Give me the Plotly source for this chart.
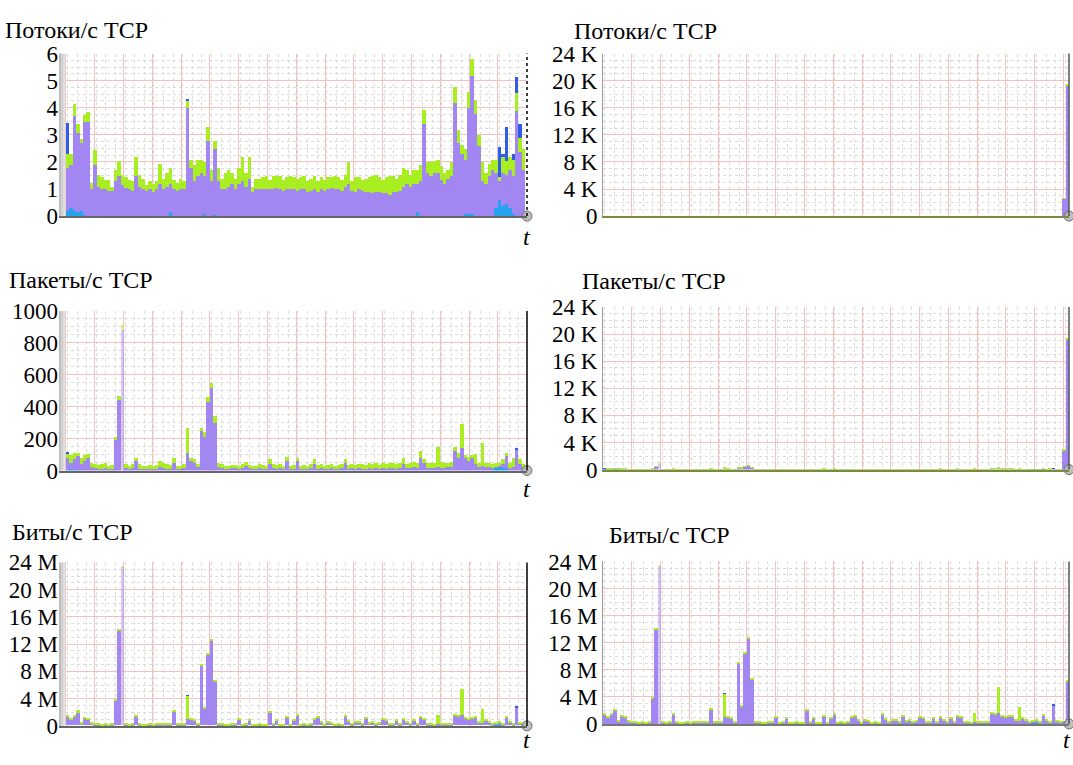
import plotly.graph_objects as go

# ---------------------------------------------------------------------------
# TCP traffic, one value per time step (stacked layers, bottom to top:
# light blue, purple, green, dark blue)
# ---------------------------------------------------------------------------

# Flows per second
FLOWS_LIGHTBLUE = [
    0.2, 0.3, 0.2, 0.15, 0.2, 0.05, 0, 0, 0, 0,
    0, 0, 0, 0, 0, 0, 0, 0, 0, 0,
    0, 0, 0, 0, 0, 0, 0, 0, 0, 0,
    0.15, 0, 0, 0, 0, 0, 0, 0, 0, 0,
    0.08, 0, 0, 0.05, 0, 0, 0, 0, 0, 0,
    0, 0, 0, 0, 0, 0, 0, 0, 0, 0,
    0, 0, 0, 0, 0, 0, 0, 0, 0, 0,
    0, 0, 0, 0, 0, 0, 0, 0, 0, 0,
    0, 0, 0, 0, 0, 0, 0, 0, 0, 0,
    0, 0, 0, 0, 0, 0, 0, 0, 0, 0,
    0, 0, 0.15, 0, 0, 0, 0, 0, 0, 0,
    0, 0, 0, 0, 0, 0, 0.1, 0.1, 0.08, 0,
    0, 0, 0, 0, 0, 0.3, 0.6, 0.4, 0.45, 0.3,
    0.1, 0, 0, 0,
]
FLOWS_PURPLE = [
    1.6, 1.6, 3.5, 2.95, 2.5, 3.45, 3.5, 1.0, 1.9, 1.1,
    1.0, 1.0, 0.95, 0.95, 1.3, 1.5, 1.15, 1.05, 1.0, 0.95,
    1.5, 1.1, 1.0, 0.95, 1.0, 0.9, 1.0, 1.2, 1.0, 1.1,
    1.05, 1.0, 0.95, 1.0, 1.0, 4.0, 1.8, 1.3, 1.5, 1.6,
    1.42, 2.8, 1.3, 2.45, 1.3, 1.0, 1.0, 1.1, 1.2, 1.0,
    1.2, 1.3, 1.1, 1.4, 0.9, 1.0, 1.0, 1.0, 1.0, 1.0,
    1.0, 1.05, 1.0, 0.95, 1.0, 1.0, 1.0, 0.95, 1.0, 1.0,
    0.9, 0.95, 1.0, 0.9, 1.0, 0.95, 1.0, 1.05, 1.0, 1.0,
    0.95, 1.1, 1.2, 0.95, 0.9, 1.0, 0.95, 0.9, 0.9, 0.85,
    0.9, 0.9, 0.85, 0.85, 0.8, 0.9, 0.9, 0.95, 1.1, 1.2,
    1.1, 1.2, 1.05, 1.3, 3.4, 1.6, 1.5, 1.6, 1.6, 1.35,
    1.2, 1.4, 1.5, 4.2, 2.7, 2.3, 2.0, 3.9, 5.1, 3.8,
    2.6, 1.3, 1.2, 1.5, 1.7, 1.3, 0.7, 1.2, 1.1, 1.4,
    1.4, 3.9, 2.4, 1.7,
]
FLOWS_GREEN = [
    0.5, 0.4, 0.45, 0.3, 0.15, 0.25, 0.35, 0.25, 0.55, 0.45,
    0.45, 0.35, 0.4, 0.15, 0.4, 0.55, 0.4, 0.4, 0.35, 0.35,
    0.7, 0.45, 0.4, 0.2, 0.3, 0.3, 0.3, 0.75, 0.4, 0.5,
    0.6, 0.35, 0.3, 0.4, 0.3, 0.3, 0.3, 0.6, 0.6, 0.5,
    0.5, 0.5, 0.4, 0.3, 0.5, 0.4, 0.6, 0.6, 0.4, 0.4,
    0.6, 0.9, 0.5, 0.8, 0.2, 0.4, 0.4, 0.45, 0.5, 0.35,
    0.5, 0.45, 0.5, 0.4, 0.45, 0.5, 0.45, 0.45, 0.45, 0.5,
    0.4, 0.45, 0.5, 0.4, 0.45, 0.4, 0.45, 0.4, 0.5, 0.45,
    0.4, 0.45, 0.8, 0.35, 0.55, 0.45, 0.4, 0.5, 0.55, 0.65,
    0.65, 0.55, 0.5, 0.6, 0.7, 0.6, 0.5, 0.6, 0.7, 0.5,
    0.45, 0.5, 0.5, 0.6, 0.55, 0.4, 0.5, 0.45, 0.5, 0.5,
    0.4, 0.3, 0.5, 0.6, 0.5, 0.35, 0.4, 0.6, 0.65, 0.5,
    0.4, 0.7, 0.4, 0.45, 0.4, 0.5, 0.15, 0.6, 0.5, 0.5,
    0.6, 0.65, 0.5, 0.8,
]
FLOWS_DARKBLUE = [
    1.15, 0, 0, 0, 0, 0, 0, 0, 0, 0,
    0, 0, 0, 0, 0, 0, 0, 0, 0, 0,
    0, 0, 0, 0, 0, 0, 0, 0, 0, 0,
    0, 0, 0, 0, 0, 0.05, 0, 0, 0, 0,
    0, 0, 0, 0, 0, 0, 0, 0, 0, 0,
    0, 0, 0, 0, 0, 0, 0, 0, 0, 0,
    0, 0, 0, 0, 0, 0, 0, 0, 0, 0,
    0, 0, 0, 0, 0, 0, 0, 0, 0, 0,
    0, 0, 0, 0, 0, 0, 0, 0, 0, 0,
    0, 0, 0, 0, 0, 0, 0, 0, 0, 0,
    0, 0, 0, 0, 0, 0, 0, 0, 0, 0,
    0, 0, 0, 0, 0, 0, 0, 0, 0, 0,
    0, 0, 0, 0, 0, 0, 1.1, 0.1, 1.25, 0,
    0.2, 0.6, 0.5, 0,
]

# Packets per second
PACKETS_LIGHTBLUE = [
    5, 8, 5, 5, 3, 0, 0, 0, 0, 0,
    0, 0, 0, 0, 0, 0, 0, 0, 0, 0,
    0, 0, 0, 0, 0, 0, 0, 0, 0, 0,
    0, 0, 0, 0, 0, 0, 0, 0, 0, 0,
    0, 0, 0, 0, 0, 0, 0, 0, 0, 0,
    0, 0, 0, 0, 0, 0, 0, 0, 0, 0,
    0, 0, 0, 0, 0, 0, 0, 0, 0, 0,
    0, 0, 0, 0, 0, 0, 0, 0, 0, 0,
    0, 0, 0, 0, 0, 0, 0, 0, 0, 0,
    0, 0, 0, 0, 0, 0, 0, 0, 0, 0,
    0, 0, 0, 0, 0, 0, 0, 0, 0, 0,
    0, 0, 0, 0, 0, 0, 0, 0, 0, 0,
    0, 0, 0, 0, 10, 20, 25, 15, 10, 0,
    0, 0, 0, 0,
]
PACKETS_PURPLE = [
    75, 42, 65, 85, 37, 60, 80, 20, 15, 10,
    10, 15, 10, 10, 190, 440, 880, 15, 10, 15,
    60, 10, 10, 10, 10, 10, 10, 20, 15, 10,
    10, 50, 10, 10, 15, 110, 60, 50, 20, 250,
    210, 430, 520, 300, 20, 15, 10, 10, 15, 15,
    10, 15, 30, 15, 10, 10, 15, 10, 10, 40,
    15, 10, 15, 10, 60, 10, 10, 60, 10, 10,
    10, 15, 40, 10, 15, 10, 10, 15, 10, 10,
    15, 50, 10, 15, 10, 15, 10, 10, 15, 10,
    15, 10, 15, 10, 15, 15, 10, 15, 40, 15,
    15, 20, 15, 80, 50, 15, 15, 15, 20, 15,
    15, 20, 25, 120, 80, 140, 80, 60, 80, 40,
    20, 30, 20, 20, 5, 5, 5, 25, 80, 15,
    20, 130, 40, 15,
]
PACKETS_GREEN = [
    30, 45, 40, 20, 40, 40, 25, 30, 25, 25,
    30, 30, 20, 25, 20, 30, 40, 25, 20, 25,
    20, 30, 20, 20, 25, 20, 25, 40, 30, 30,
    25, 30, 20, 20, 25, 160, 20, 20, 20, 20,
    30, 30, 30, 40, 25, 25, 20, 20, 20, 20,
    20, 25, 25, 20, 20, 20, 25, 25, 20, 30,
    25, 25, 25, 20, 25, 20, 25, 20, 20, 25,
    20, 25, 30, 25, 25, 20, 25, 25, 20, 25,
    25, 20, 25, 25, 25, 25, 30, 25, 30, 30,
    30, 25, 30, 30, 30, 30, 30, 35, 40, 25,
    35, 35, 30, 40, 20, 35, 35, 35, 130, 40,
    35, 30, 30, 30, 30, 150, 20, 25, 20, 65,
    30, 140, 30, 25, 25, 20, 20, 30, 20, 35,
    60, 0, 30, 25,
]
PACKETS_DARKBLUE = [
    5, 0, 0, 0, 0, 0, 0, 0, 0, 0,
    0, 0, 0, 0, 0, 0, 0, 0, 0, 0,
    0, 0, 0, 0, 0, 0, 0, 0, 0, 0,
    0, 0, 0, 0, 0, 0, 0, 0, 0, 0,
    0, 0, 0, 0, 0, 0, 0, 0, 0, 0,
    0, 0, 0, 0, 0, 0, 0, 0, 0, 0,
    0, 0, 0, 0, 0, 0, 0, 0, 0, 0,
    0, 0, 0, 0, 0, 0, 0, 0, 0, 0,
    0, 0, 0, 0, 0, 0, 0, 0, 0, 0,
    0, 0, 0, 0, 0, 0, 0, 0, 0, 0,
    0, 0, 0, 0, 0, 0, 0, 0, 0, 0,
    0, 0, 0, 0, 0, 0, 0, 0, 0, 0,
    0, 0, 0, 0, 0, 0, 0, 0, 0, 0,
    0, 10, 0, 0,
]

# Bits per second, in Mbit/s
BITS_LIGHTBLUE_M = [
    0, 0, 0, 0, 0, 0, 0, 0, 0, 0,
    0, 0, 0, 0, 0, 0, 0, 0, 0, 0,
    0, 0, 0, 0, 0, 0, 0, 0, 0, 0,
    0, 0, 0, 0, 0, 0, 0, 0, 0, 0,
    0, 0, 0, 0, 0, 0, 0, 0, 0, 0,
    0, 0, 0, 0, 0, 0, 0, 0, 0, 0,
    0, 0, 0, 0, 0, 0, 0, 0, 0, 0,
    0, 0, 0, 0, 0, 0, 0, 0, 0, 0,
    0, 0, 0, 0, 0, 0, 0, 0, 0, 0,
    0, 0, 0, 0, 0, 0, 0, 0, 0, 0,
    0, 0, 0, 0, 0, 0, 0, 0, 0, 0,
    0, 0, 0, 0, 0, 0, 0, 0, 0, 0,
    0, 0, 0, 0, 0, 0.15, 0.1, 0, 0, 0,
    0, 0, 0, 0,
]
BITS_PURPLE_M = [
    1.2, 0.8, 1.2, 1.8, 0.3, 1.0, 0.8, 0.3, 0.1, 0.1,
    0.05, 0.1, 0.05, 0.1, 3.7, 13.9, 23.2, 0.1, 0.05, 0.1,
    1.3, 0.1, 0.05, 0.05, 0.1, 0.05, 0.1, 0.2, 0.2, 0.1,
    0.1, 2.0, 0.1, 0.1, 0.2, 0.9, 0.9, 0.7, 0.1, 8.8,
    2.5, 10.4, 12.5, 6.5, 0.2, 0.1, 0.05, 0.05, 0.1, 0.1,
    0.9, 0.05, 0.1, 0.8, 0.05, 0.05, 0.1, 0.05, 0.05, 1.9,
    0.1, 0.8, 0.05, 0.05, 1.1, 0.05, 0.7, 1.4, 0.05, 0.1,
    0.05, 0.1, 0.9, 1.1, 0.5, 0.05, 0.4, 0.3, 0.05, 0.1,
    0.05, 1.3, 0.6, 0.1, 0.5, 0.5, 0.1, 1.0, 0.3, 0.5,
    0.1, 0.3, 0.9, 0.7, 0.1, 0.1, 0.8, 0.1, 0.9, 0.5,
    0.1, 0.7, 0.1, 1.1, 0.9, 0.1, 0.1, 0.05, 0.2, 0.1,
    0.1, 0.1, 0.2, 1.4, 1.2, 1.6, 1.0, 0.9, 1.0, 1.1,
    0.5, 0.4, 0.7, 0.4, 0.2, 0.2, 0.3, 0.2, 1.2, 0.4,
    0.2, 2.6, 0.3, 0.1,
]
BITS_GREEN_M = [
    0.4, 0.3, 0.3, 0.4, 0.2, 0.3, 0.3, 0.2, 0.15, 0.15,
    0.15, 0.15, 0.15, 0.15, 0.2, 0.2, 0.2, 0.15, 0.15, 0.15,
    0.2, 0.15, 0.15, 0.15, 0.15, 0.15, 0.15, 0.15, 0.15, 0.15,
    0.15, 0.2, 0.15, 0.15, 0.15, 3.5, 0.15, 0.15, 0.15, 0.2,
    0.2, 0.2, 0.2, 0.2, 0.15, 0.15, 0.15, 0.15, 0.15, 0.15,
    0.15, 0.15, 0.15, 0.15, 0.15, 0.15, 0.15, 0.15, 0.15, 0.15,
    0.15, 0.15, 0.15, 0.15, 0.15, 0.15, 0.15, 0.15, 0.15, 0.15,
    0.15, 0.15, 0.15, 0.15, 0.15, 0.15, 0.15, 0.15, 0.15, 0.15,
    0.15, 0.15, 0.15, 0.15, 0.15, 0.15, 0.15, 0.15, 0.15, 0.15,
    0.15, 0.15, 0.15, 0.15, 0.15, 0.15, 0.15, 0.15, 0.15, 0.15,
    0.15, 0.15, 0.15, 0.15, 0.15, 0.15, 0.15, 0.15, 1.3, 0.15,
    0.15, 0.15, 0.15, 0.3, 0.3, 3.8, 0.3, 0.2, 0.2, 0.2,
    0.15, 2.0, 0.15, 0.15, 0.15, 0.15, 0.15, 0.15, 0.15, 0.15,
    0.15, 0.1, 0.15, 0.15,
]
BITS_DARKBLUE_M = [
    0, 0, 0, 0, 0, 0, 0, 0, 0, 0,
    0, 0, 0, 0, 0, 0, 0, 0, 0, 0,
    0, 0, 0, 0, 0, 0, 0, 0, 0, 0,
    0, 0, 0, 0, 0, 0.05, 0, 0, 0, 0,
    0, 0, 0, 0, 0, 0, 0, 0, 0, 0,
    0, 0, 0, 0, 0, 0, 0, 0, 0, 0,
    0, 0, 0, 0, 0, 0, 0, 0, 0, 0,
    0, 0, 0, 0, 0, 0, 0, 0, 0, 0,
    0, 0, 0, 0, 0, 0, 0, 0, 0, 0,
    0, 0, 0, 0, 0, 0, 0, 0, 0, 0,
    0, 0, 0, 0, 0, 0, 0, 0, 0, 0,
    0, 0, 0, 0, 0, 0, 0, 0, 0, 0,
    0, 0, 0, 0, 0, 0, 0, 0, 0, 0,
    0, 0.1, 0, 0,
]

# The right-hand charts cover the same period plus two final steps
FLOWS_TAIL_PURPLE = [2700, 19400]
FLOWS_TAIL_GREEN = [20, 150]
PACKETS_TAIL_PURPLE = [2800, 19200]
PACKETS_TAIL_GREEN = [120, 80]
BITS_TAIL_PURPLE_M = [0.3, 6.2]
BITS_TAIL_GREEN_M = [0.05, 0.1]

# Tick labels
FLOWS_TICKS = [0, 1, 2, 3, 4, 5, 6]
FLOWS_TICKTEXT = ["0", "1", "2", "3", "4", "5", "6"]
PACKETS_TICKS = [0, 200, 400, 600, 800, 1000]
PACKETS_TICKTEXT = ["0", "200", "400", "600", "800", "1000"]
K_TICKS = [0, 4000, 8000, 12000, 16000, 20000, 24000]
K_TICKTEXT = ["0", "4 K", "8 K", "12 K", "16 K", "20 K", "24 K"]
M_TICKS = [0, 4e6, 8e6, 12e6, 16e6, 20e6, 24e6]
M_TICKTEXT = ["0", "4 M", "8 M", "12 M", "16 M", "20 M", "24 M"]

TITLE_FLOWS = "Потоки/с TCP"
TITLE_PACKETS = "Пакеты/с TCP"
TITLE_BITS = "Биты/с TCP"

# ---------------------------------------------------------------------------
# Styling
# ---------------------------------------------------------------------------
W, H = 1073, 765
SERIF = "'Liberation Serif', Tinos, 'Times New Roman', serif"
C_LIGHTBLUE = "#25a3ee"
C_PURPLE = "#a286f2"
C_GREEN = "#a8ee20"
C_DARKBLUE = "#2f5de6"
PALE_STEPS = {16}          # very short burst, drawn semi-transparent
MAJOR_GRID = "#f4c0c0"
MINOR_GRID = "#dcdcdc"

N = len(FLOWS_PURPLE)
zeros_tail = [0] * len(FLOWS_TAIL_PURPLE)


def scale(values, k):
    return [v * k for v in values]


# panel: (pixel box left, right, top, bottom), layers, ticks, title, ...
panels = [
    dict(box=(59, 527, 43, 211), left=True, pale=False,
         layers=(FLOWS_LIGHTBLUE, FLOWS_PURPLE, FLOWS_GREEN, FLOWS_DARKBLUE),
         ymax=6, ticks=(FLOWS_TICKS, FLOWS_TICKTEXT), ymin_dt=0.25,
         title=TITLE_FLOWS, title_xy=(3, 19), border=("black", "dot"), t_label=(527, 233), base="#666666"),
    dict(box=(603, 1069, 43, 211), left=False, pale=False,
         layers=(FLOWS_LIGHTBLUE + zeros_tail, FLOWS_PURPLE + FLOWS_TAIL_PURPLE,
                 FLOWS_GREEN + FLOWS_TAIL_GREEN, FLOWS_DARKBLUE + zeros_tail),
         ymax=24000, ticks=(K_TICKS, K_TICKTEXT), ymin_dt=1000,
         title=TITLE_FLOWS, title_xy=(572, 20), border=("#555555", "solid"), t_label=None, base="#7b8a3c"),
    dict(box=(59, 527, 309, 474), left=True, pale=True,
         layers=(PACKETS_LIGHTBLUE, PACKETS_PURPLE, PACKETS_GREEN, PACKETS_DARKBLUE),
         ymax=1000, ticks=(PACKETS_TICKS, PACKETS_TICKTEXT), ymin_dt=50,
         title=TITLE_PACKETS, title_xy=(7, 277), border=("black", "solid"), t_label=(527, 493), base="#666666"),
    dict(box=(603, 1069, 305, 473), left=False, pale=True,
         layers=(PACKETS_LIGHTBLUE + zeros_tail, PACKETS_PURPLE + PACKETS_TAIL_PURPLE,
                 PACKETS_GREEN + PACKETS_TAIL_GREEN, PACKETS_DARKBLUE + zeros_tail),
         ymax=24000, ticks=(K_TICKS, K_TICKTEXT), ymin_dt=1000,
         title=TITLE_PACKETS, title_xy=(580, 278), border=("#555555", "solid"), t_label=None, base="#7b8a3c"),
    dict(box=(59, 527, 569, 738), left=True, pale=True,
         layers=tuple(scale(v, 1e6) for v in (BITS_LIGHTBLUE_M, BITS_PURPLE_M, BITS_GREEN_M, BITS_DARKBLUE_M)),
         ymax=24e6, ticks=(M_TICKS, M_TICKTEXT), ymin_dt=1e6,
         title=TITLE_BITS, title_xy=(10, 538), border=("black", "solid"), t_label=(527, 753), base="#666666"),
    dict(box=(603, 1069, 568, 736), left=False, pale=True,
         layers=tuple(scale(v, 1e6) for v in (BITS_LIGHTBLUE_M + zeros_tail, BITS_PURPLE_M + BITS_TAIL_PURPLE_M,
                                              BITS_GREEN_M + BITS_TAIL_GREEN_M, BITS_DARKBLUE_M + zeros_tail)),
         ymax=24e6, ticks=(M_TICKS, M_TICKTEXT), ymin_dt=1e6,
         title=TITLE_BITS, title_xy=(607, 541), border=("#555555", "solid"), t_label=(1067, 753), base="#777777"),
]

fig = go.Figure()
layout = dict(
    width=W, height=H, margin=dict(l=0, r=0, t=0, b=0),
    paper_bgcolor="white", plot_bgcolor="white",
    barmode="stack", bargap=0, showlegend=False,
    shapes=[], annotations=[],
)

colors = (C_LIGHTBLUE, C_PURPLE, C_GREEN, C_DARKBLUE)

for k, p in enumerate(panels, start=1):
    sfx = "" if k == 1 else str(k)
    xa, ya = "x" + sfx, "y" + sfx
    x0, x1, top, bottom = p["box"]
    n = len(p["layers"][1])
    xs = list(range(n))
    opacity = [0.45 if (p["pale"] and i in PALE_STEPS) else 1.0 for i in xs]
    xrange_ = [-2.5, N] if p["left"] else [-0.5, n - 0.5]

    for vals, col in zip(p["layers"], colors):
        fig.add_trace(go.Bar(
            x=xs, y=vals, width=1, xaxis=xa, yaxis=ya,
            marker=dict(color=col, line=dict(width=0), opacity=opacity),
            hoverinfo="skip",
        ))

    # grey knob at the end of the time axis
    fig.add_trace(go.Scatter(
        x=[xrange_[1]], y=[0], mode="markers", xaxis=xa, yaxis=ya, cliponaxis=False,
        marker=dict(symbol="circle", size=10, color="rgba(180,180,180,0.85)",
                    line=dict(color="#707070", width=1)),
        hoverinfo="skip",
    ))

    layout["xaxis" + sfx] = dict(
        domain=[x0 / W, x1 / W], anchor=ya, range=xrange_,
        showticklabels=False, ticks="", zeroline=False,
        showgrid=True, gridcolor=MAJOR_GRID, gridwidth=1, tick0=-0.5, dtick=8.4,
        minor=dict(showgrid=True, dtick=2.8, gridcolor=MINOR_GRID, griddash="dot", gridwidth=1),
        showline=True, linecolor=p["base"], linewidth=1.5,
    )
    tv, tt = p["ticks"]
    layout["yaxis" + sfx] = dict(
        domain=[1 - bottom / H, 1 - top / H], anchor=xa, range=[0, p["ymax"]],
        tickvals=tv, ticktext=tt, ticks="", zeroline=False,
        tickfont=dict(family=SERIF, size=23, color="black"),
        showgrid=True, gridcolor=MAJOR_GRID, gridwidth=1,
        minor=dict(showgrid=True, dtick=p["ymin_dt"], gridcolor=MINOR_GRID, griddash="dot", gridwidth=1),
        showline=not p["left"], linecolor="#9a9a9a", linewidth=1,
    )

    # grey band along the value axis of the left-hand charts
    if p["left"]:
        for a, b, c in ((0.0, 0.005, "#bdbdbd"), (0.005, 0.010, "#cdcdcd"), (0.010, 0.0135, "#e2e2e2")):
            layout["shapes"].append(dict(
                type="rect", xref=f"{xa} domain", yref=f"{ya} domain",
                x0=a, x1=b, y0=0, y1=1, fillcolor=c, line=dict(width=0), layer="above",
            ))

    # right-hand border of the time window
    bcol, bdash = p["border"]
    layout["shapes"].append(dict(
        type="line", xref=f"{xa} domain", yref=f"{ya} domain",
        x0=1, x1=1, y0=0, y1=1, line=dict(color=bcol, width=1.5, dash=bdash), layer="above",
    ))

    tx, ty = p["title_xy"]
    layout["annotations"].append(dict(
        text=p["title"], xref="paper", yref="paper", x=tx / W, y=1 - ty / H,
        xanchor="left", yanchor="middle", showarrow=False,
        font=dict(family=SERIF, size=24, color="black"),
    ))
    if p["t_label"]:
        lx, ly = p["t_label"]
        layout["annotations"].append(dict(
            text="t", xref="paper", yref="paper", x=lx / W, y=1 - ly / H,
            xanchor="center", yanchor="middle", showarrow=False,
            font=dict(family=SERIF, size=24, color="black", style="italic"),
        ))

fig.update_layout(**layout)
fig.write_html("out.html")
